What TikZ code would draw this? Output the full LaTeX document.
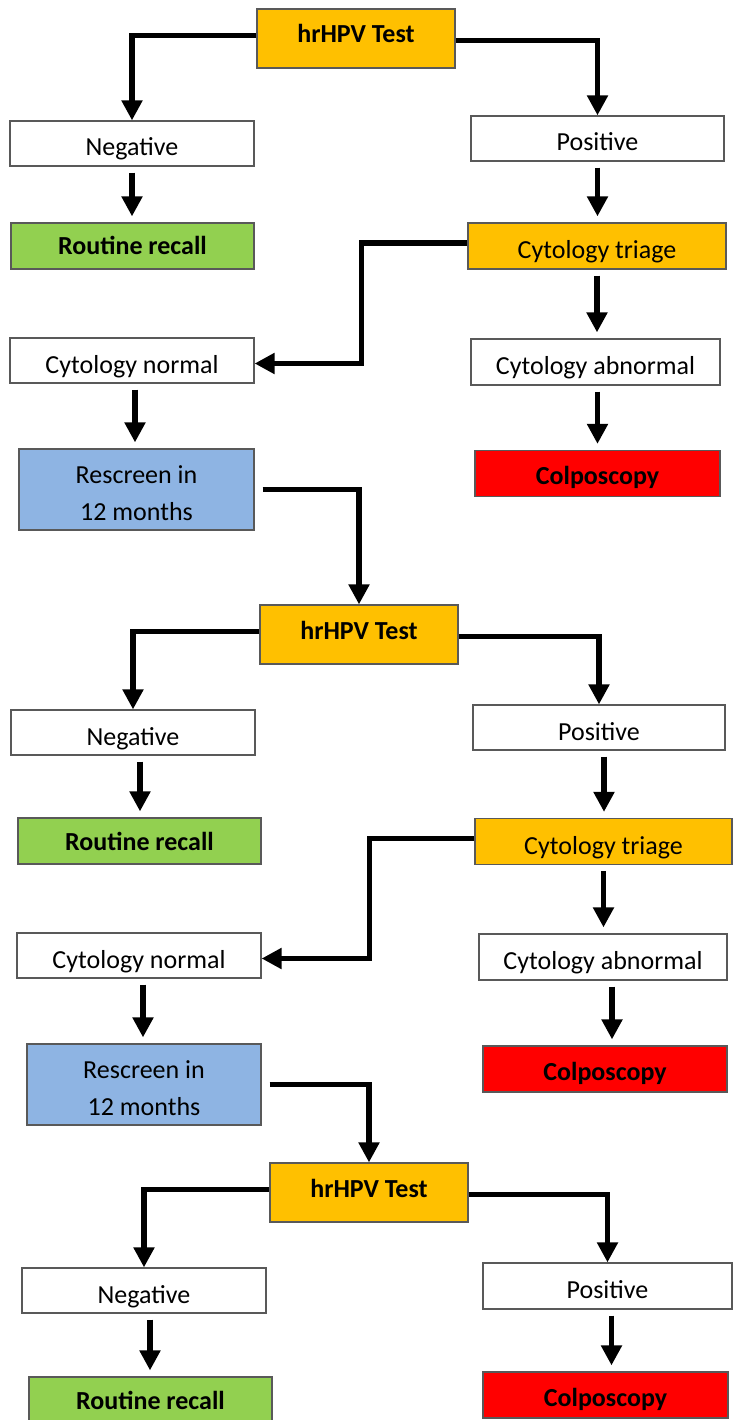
\documentclass[tikz,border=0pt]{standalone}
\usepackage{fontspec}
\setmainfont{Carlito}
\usetikzlibrary{arrows.meta}

\definecolor{testorange}{HTML}{FFC000}
\definecolor{recallgreen}{HTML}{92D050}
\definecolor{rescreenblue}{HTML}{8EB4E3}
\definecolor{colpored}{HTML}{FF0000}

\begin{document}
\begin{tikzpicture}[x=1pt,y=-1pt,->,>={Triangle[width=20pt,length=20pt]},line width=5.5pt]
\tikzstyle{box}=[draw=gray!70!black,line width=1.2pt,inner sep=0pt,minimum height=45pt,text height=30pt,text depth=5pt,align=center,text=black,font=\fontsize{26pt}{37pt}\selectfont]
\tikzstyle{plainbox}=[box,fill=white]
\tikzstyle{testbox}=[box,fill=testorange,minimum height=59pt,text height=19pt,text depth=10pt,font=\fontsize{26pt}{37pt}\selectfont\bfseries]
\tikzstyle{triagebox}=[box,fill=testorange,minimum height=46pt]
\tikzstyle{recallbox}=[box,fill=recallgreen,minimum width=243pt,minimum height=46pt,text height=26pt,text depth=8pt,font=\fontsize{26pt}{37pt}\selectfont\bfseries]
\tikzstyle{rescreenbox}=[box,fill=rescreenblue,minimum height=81pt,text height=66pt,text depth=5pt]
\tikzstyle{colpobox}=[box,fill=colpored,minimum height=46pt,text height=28pt,text depth=6pt,font=\fontsize{26pt}{37pt}\selectfont\bfseries]
\tikzstyle{step arrow}=[shorten <=6pt,shorten >=6pt]
\useasboundingbox (0,0) rectangle (732,1420);

% first round
\node[testbox,minimum width=198pt] (hpv1) at (356,38.5) {hrHPV Test};
\node[plainbox,minimum width=244pt] (neg1) at (132,143.5) {Negative};
\node[plainbox,minimum width=253pt] (pos1) at (597.5,138.5) {Positive};
\node[recallbox] (rr1) at (132.5,246) {Routine recall};
\node[triagebox,minimum width=258pt] (tri1) at (597,246) {Cytology triage};
\node[plainbox,minimum width=244pt] (cn1) at (132,360.5) {Cytology normal};
\node[plainbox,minimum width=249pt,minimum height=46pt] (ca1) at (595.5,362) {Cytology abnormal};
\node[rescreenbox,minimum width=235pt] (rs1) at (136.5,489.5) {Rescreen in\\12 months};
\node[colpobox,minimum width=245pt] (co1) at (597.5,473.5) {Colposcopy};

% second round
\node[testbox,minimum width=198pt] (hpv2) at (359,634.5) {hrHPV Test};
\node[plainbox,minimum width=244pt] (neg2) at (133,732.5) {Negative};
\node[plainbox,minimum width=252pt] (pos2) at (599,727.5) {Positive};
\node[recallbox] (rr2) at (139.5,841) {Routine recall};
\node[triagebox,minimum width=257pt] (tri2) at (603.5,841.5) {Cytology triage};
\node[plainbox,minimum width=244pt] (cn2) at (139,955.5) {Cytology normal};
\node[plainbox,minimum width=248pt,minimum height=46pt] (ca2) at (603,957) {Cytology abnormal};
\node[rescreenbox,minimum width=234pt] (rs2) at (144,1084.5) {Rescreen in\\12 months};
\node[colpobox,minimum width=244pt] (co2) at (605,1069) {Colposcopy};

% third round
\node[testbox,minimum width=198pt] (hpv3) at (369,1192.5) {hrHPV Test};
\node[plainbox,minimum width=244pt] (neg3) at (144,1290.5) {Negative};
\node[plainbox,minimum width=249pt,minimum height=46pt] (pos3) at (607.5,1286) {Positive};
\node[recallbox] (rr3) at (150.5,1400) {Routine recall};
\node[colpobox,minimum width=245pt] (co3) at (605.5,1395) {Colposcopy};

% connectors
\draw ([yshift=3pt]hpv1.west) -| (neg1.north);
\draw ([yshift=-2pt]hpv1.east) -| (pos1.north);
\draw[step arrow] (neg1.south) -- (neg1.south |- rr1.north);
\draw[step arrow] (pos1.south) -- (pos1.south |- tri1.north);
\draw[step arrow] (tri1.south) -- (tri1.south |- ca1.north);
\draw[step arrow] ([xshift=3pt]cn1.south) -- ([xshift=3pt]cn1.south |- rs1.north);
\draw[step arrow] ([xshift=2pt]ca1.south) -- ([xshift=2pt]ca1.south |- co1.north);
\draw ([yshift=3pt]tri1.west) -- ++(-106,0) |- ([yshift=-3pt]cn1.east);
\draw ([xshift=8pt]rs1.east) -| (hpv2.north);

\draw ([yshift=3pt]hpv2.west) -| (neg2.north);
\draw ([yshift=-2pt]hpv2.east) -| (pos2.north);
\draw[step arrow] ([xshift=7pt]neg2.south) -- ([xshift=7pt]neg2.south |- rr2.north);
\draw[step arrow] ([xshift=5pt]pos2.south) -- ([xshift=5pt]pos2.south |- tri2.north);
\draw[step arrow] (tri2.south) -- (tri2.south |- ca2.north);
\draw[step arrow] ([xshift=4pt]cn2.south) -- ([xshift=4pt]cn2.south |- rs2.north);
\draw[step arrow] ([xshift=9pt]ca2.south) -- ([xshift=9pt]ca2.south |- co2.north);
\draw ([yshift=3pt]tri2.west) -- ++(-105,0) |- ([yshift=-3pt]cn2.east);
\draw ([xshift=8pt]rs2.east) -| (hpv3.north);

\draw ([yshift=3pt]hpv3.west) -| (neg3.north);
\draw ([yshift=-2pt]hpv3.east) -| (pos3.north);
\draw[step arrow] ([xshift=6pt]neg3.south) -- ([xshift=6pt]neg3.south |- rr3.north);
\draw[step arrow] ([xshift=4pt]pos3.south) -- ([xshift=4pt]pos3.south |- co3.north);
\end{tikzpicture}
\end{document}
